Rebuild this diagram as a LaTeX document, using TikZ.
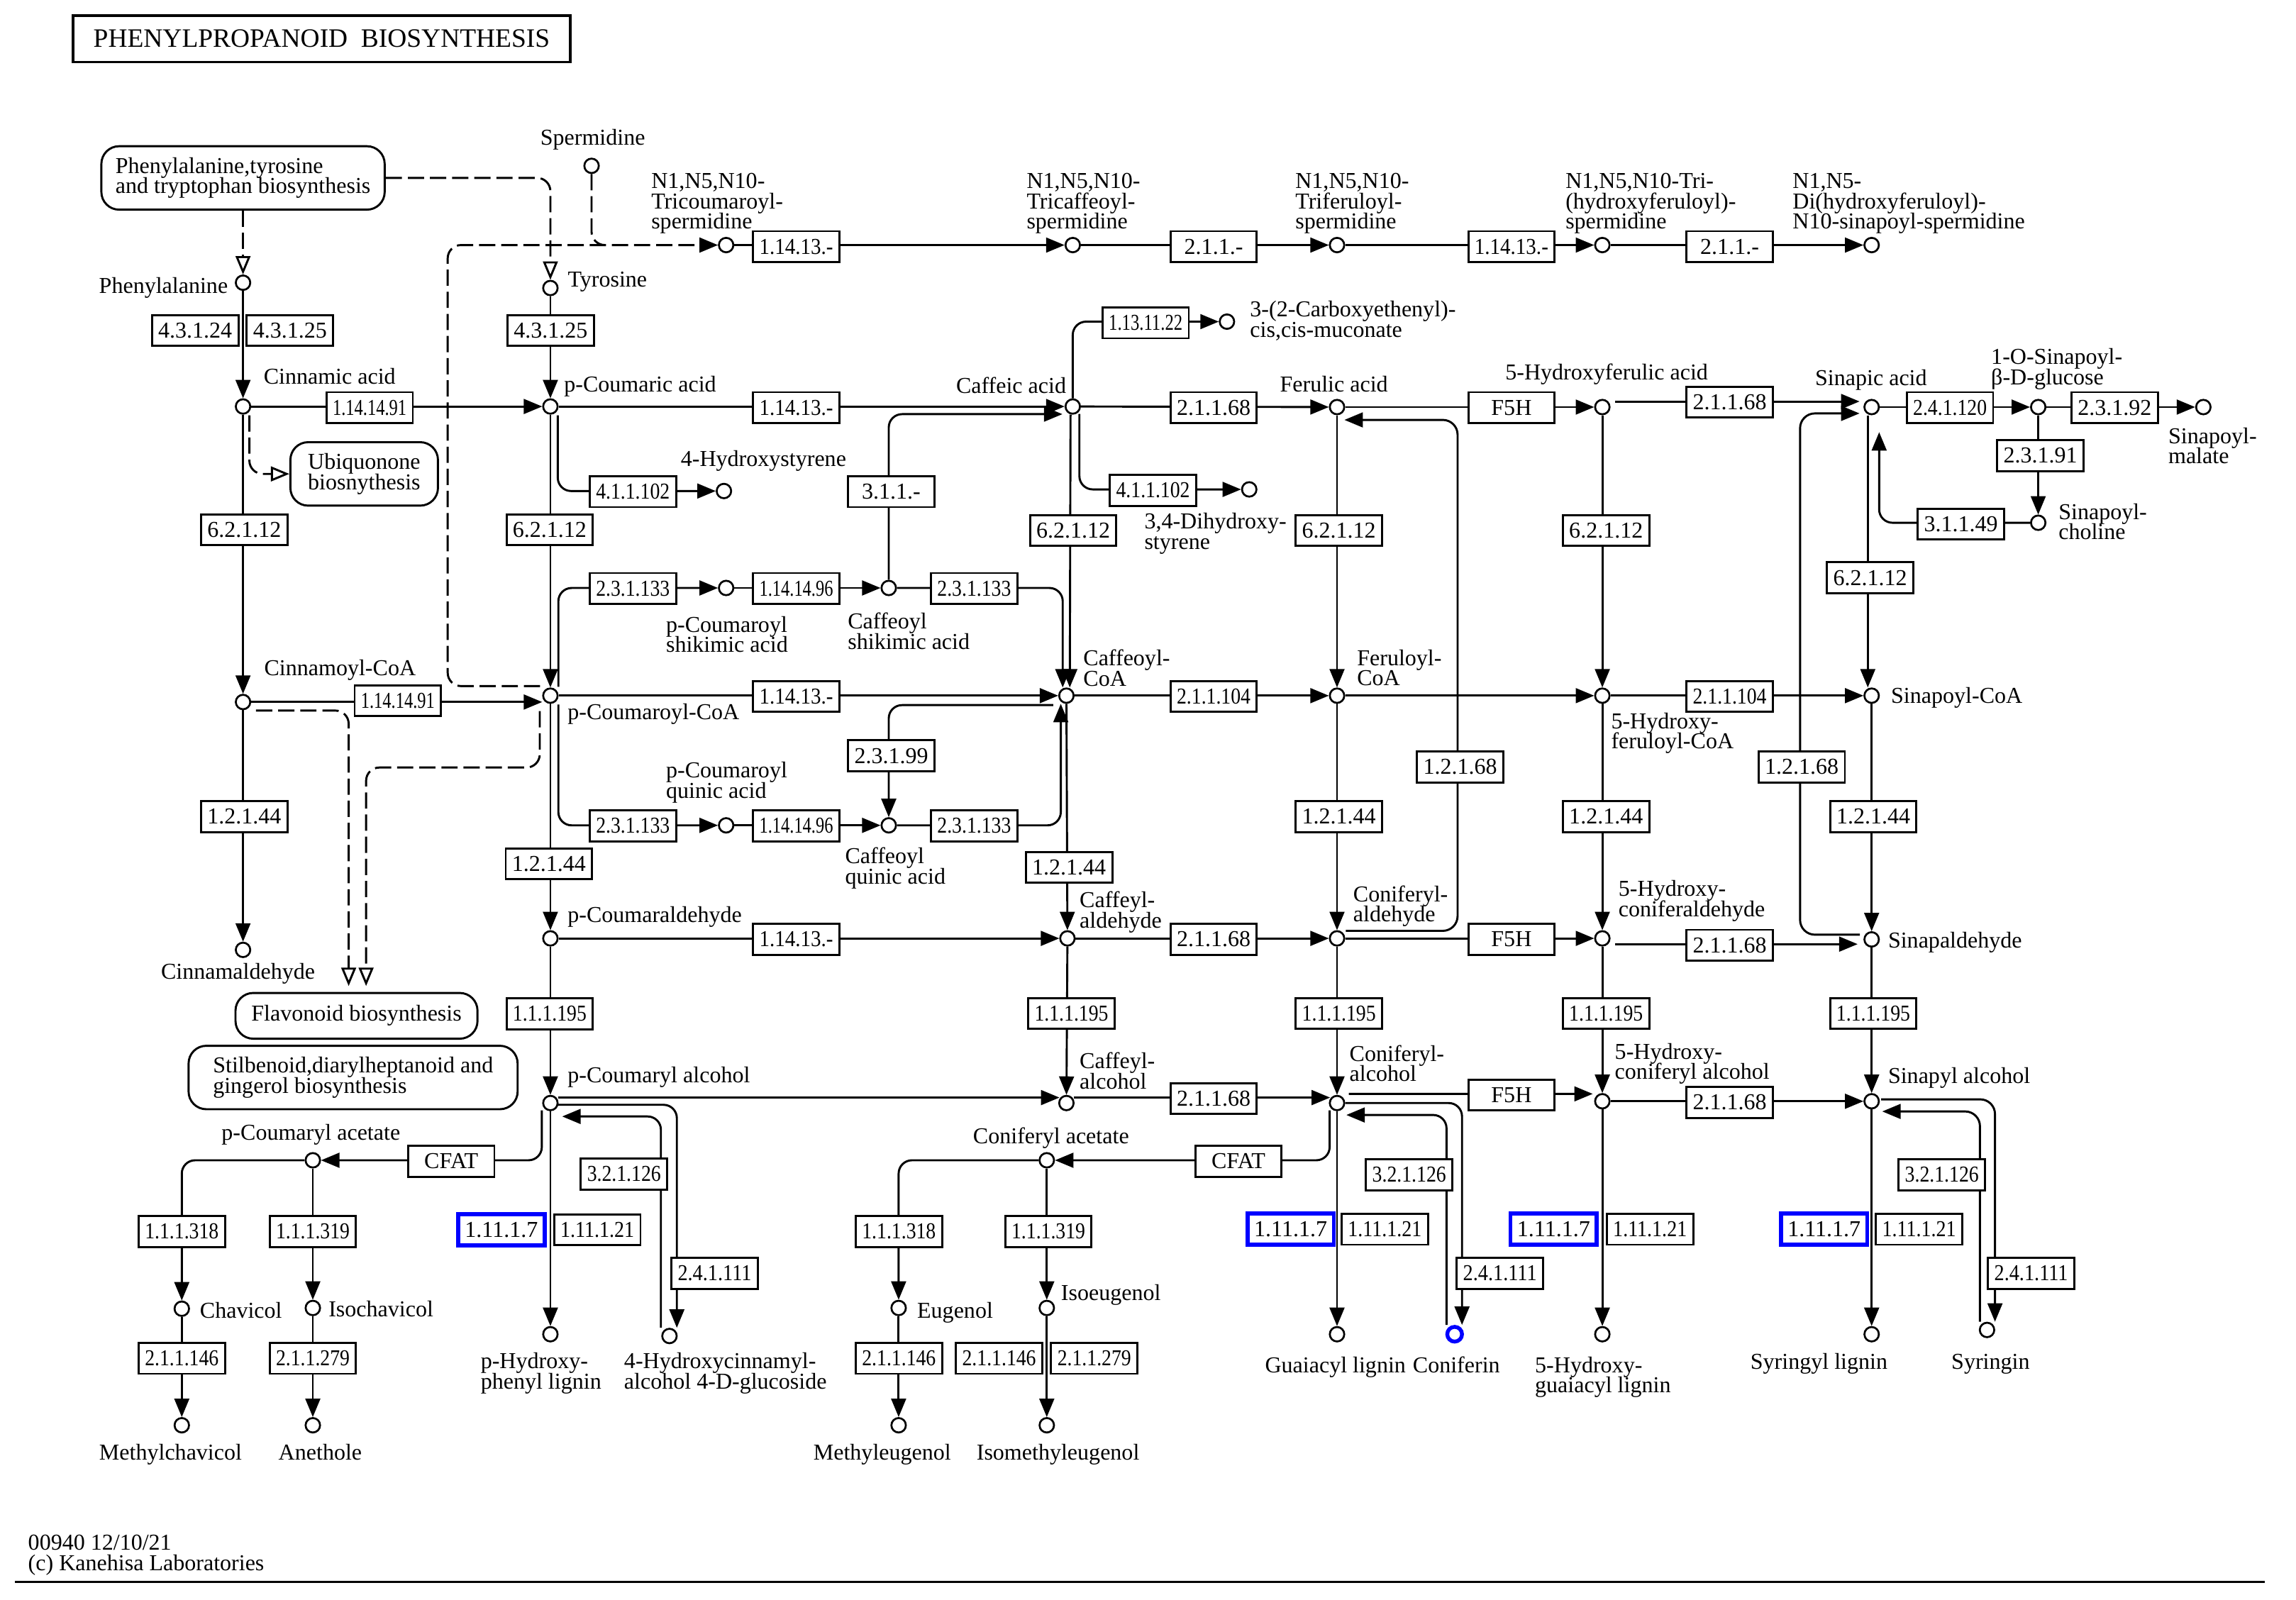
\documentclass[tikz,border=0pt]{standalone}
\usepackage{fontspec}
\setmainfont{Liberation Serif}
\usepackage{graphicx}
\usetikzlibrary{arrows.meta,calc}
\pgfdeclarelayer{bg}
\pgfsetlayers{bg,main}
\newsavebox\ezbox
\newcommand\ez[1]{\sbox\ezbox{#1}\ifdim\wd\ezbox>50pt\resizebox{50pt}{\height}{\usebox\ezbox}\else\usebox\ezbox\fi}
\newcommand\lfont{\fontsize{15.4}{13.7}\selectfont\lineskiplimit=-20pt\relax}
\tikzset{
  ln/.style={line width=1.4pt},
  arr/.style={-{Triangle[length=12.5pt,width=10pt]}},
  oarr/.style={-{Triangle[open,length=12.5pt,width=10pt]}},
  dsh/.style={dash pattern=on 11pt off 4pt},
  enz/.style={draw, line width=1.4pt, fill=white, minimum width=58.5pt, minimum height=21pt, inner sep=0pt, font=\lfont},
  enzb/.style={enz, draw=blue, line width=2.8pt},
  cpd/.style={circle, draw, line width=1.3pt, fill=white, minimum size=9.8pt, inner sep=0pt},
  cpdb/.style={cpd, draw=blue, line width=2.6pt, minimum size=10pt},
  mapbox/.style={draw, line width=1.4pt, rounded corners=12pt, fill=white, inner sep=0pt, align=left, font=\lfont},
  lab/.style={inner sep=0pt, align=left, anchor=north west, font=\lfont, execute at begin node={\rule{0pt}{11pt}}},
  labc/.style={lab, align=center, anchor=north},
  labr/.style={lab, align=right, anchor=north east}
}
\newcommand\mkE[4]{\node[enz] (#1) at (#2,#3) {\ez{#4}};}
\newcommand\mkB[4]{\node[enzb] (#1) at (#2,#3) {\ez{#4}};}
\newcommand\mkC[3]{\node[cpd] (#1) at (#2,#3) {};}
\begin{document}
\begin{tikzpicture}[x=1pt,y=-1pt]
\useasboundingbox (0,0) rectangle (1556,1084);
% ---------- title and map boxes
\node[draw, line width=1.5pt, minimum width=337pt, minimum height=31.5pt, inner sep=0pt, font=\fontsize{18}{20}\selectfont] (title) at (218,26.3) {PHENYLPROPANOID~~BIOSYNTHESIS};
\node[mapbox, minimum width=192pt, minimum height=43pt] (ptt) at (164.7,120.6) {Phenylalanine,tyrosine\\and tryptophan biosynthesis};
\node[mapbox, minimum width=100pt, minimum height=43pt] (ubiq) at (246.8,321.2) {Ubiquonone\\biosnythesis};
\node[mapbox, minimum width=164pt, minimum height=31pt] (flav) at (241.6,688.5) {Flavonoid biosynthesis};
\node[mapbox, minimum width=223pt, minimum height=43pt] (stil) at (239.3,730.3) {Stilbenoid,diarylheptanoid and\\gingerol biosynthesis};
% ---------- compounds
\mkC{phe}{164.7}{191.6}
\mkC{cin}{164.7}{275.5}
\mkC{cinCoA}{164.7}{475.8}
\mkC{cinald}{164.7}{643.8}
\mkC{sperm}{400.9}{112.4}
\mkC{tyr}{373}{195.2}
\mkC{pcoum}{373}{275.5}
\mkC{pcoumCoA}{373}{471.5}
\mkC{pcoumald}{373}{636}
\mkC{pcoumalc}{373}{747.6}
\mkC{tricoum}{492.1}{166.1}
\mkC{tricaf}{727}{166.1}
\mkC{triferu}{906.1}{166.1}
\mkC{triohf}{1085.9}{166.1}
\mkC{diohs}{1268.4}{166.1}
\mkC{muc}{831.5}{218}
\mkC{caf}{727}{275.5}
\mkC{hsty}{490.6}{332.8}
\mkC{dhsty}{846.6}{331.7}
\mkC{pcshik}{492.1}{398.5}
\mkC{cafshik}{602.3}{398.5}
\mkC{cafCoA}{722.7}{471.5}
\mkC{pcquin}{492.1}{559.4}
\mkC{cafquin}{602.3}{559.4}
\mkC{cafald}{723.4}{636}
\mkC{cafalc}{722.7}{747.6}
\mkC{fer}{906.1}{275.9}
\mkC{ferCoA}{906.1}{471.5}
\mkC{conald}{906.1}{636}
\mkC{conalc}{906.1}{747.6}
\mkC{ohfer}{1085.9}{275.9}
\mkC{ohferCoA}{1085.9}{471.5}
\mkC{ohconald}{1085.9}{636}
\mkC{ohconalc}{1085.9}{746.4}
\mkC{sin}{1268.4}{275.9}
\mkC{sinCoA}{1268.4}{471.5}
\mkC{sinald}{1268.4}{636.7}
\mkC{sinalc}{1268.4}{746.4}
\mkC{singlc}{1381.3}{275.9}
\mkC{sinmal}{1493.2}{275.9}
\mkC{sinchol}{1381.3}{354.3}
\mkC{pcacet}{212}{786.4}
\mkC{chav}{123.2}{887}
\mkC{ichav}{212}{886.5}
\mkC{mchav}{123.2}{966}
\mkC{anet}{212}{966}
\mkC{phlig}{373}{904.3}
\mkC{hcglc}{453.7}{905.5}
\mkC{conacet}{709.4}{786.4}
\mkC{eug}{609}{886.5}
\mkC{ieug}{709.4}{886.5}
\mkC{meug}{609}{966}
\mkC{imeug}{709.4}{966}
\mkC{glig}{906.1}{904.3}
\node[cpdb] (conif) at (985.8,904.3) {};
\mkC{ohglig}{1085.9}{904.3}
\mkC{slig}{1268.4}{904.3}
\mkC{syr}{1346.6}{901.4}
% ---------- enzymes
\mkE{e1}{132.3}{224}{4.3.1.24}
\mkE{e2}{196.5}{224}{4.3.1.25}
\mkE{e3}{250.5}{276.3}{1.14.14.91}
\mkE{e4}{165.5}{359.1}{6.2.1.12}
\mkE{e5}{269.6}{474.9}{1.14.14.91}
\mkE{e6}{165.5}{553.4}{1.2.1.44}
\mkE{e7}{373.2}{224}{4.3.1.25}
\mkE{e8}{372.5}{359.1}{6.2.1.12}
\mkE{e9}{372}{585.5}{1.2.1.44}
\mkE{e10}{372.5}{687}{1.1.1.195}
\mkE{e11}{539.6}{167.2}{1.14.13.-}
\mkE{e12}{822.5}{167.2}{2.1.1.-}
\mkE{e13}{1024.3}{167.2}{1.14.13.-}
\mkE{e14}{1172.2}{167.2}{2.1.1.-}
\mkE{e15}{539.6}{276.3}{1.14.13.-}
\mkE{e16}{776.4}{218.8}{1.13.11.22}
\mkE{e17}{428.9}{333.2}{4.1.1.102}
\mkE{e18}{604}{333.2}{3.1.1.-}
\mkE{e19}{781.4}{332.3}{4.1.1.102}
\mkE{e20}{727.3}{359.5}{6.2.1.12}
\mkE{e21}{822.5}{276.3}{2.1.1.68}
\mkE{e22}{1024.3}{276.3}{F5H}
\mkE{e23}{1172.2}{272.5}{2.1.1.68}
\mkE{e24}{1321.5}{276.3}{2.4.1.120}
\mkE{e25}{1433.1}{276.3}{2.3.1.92}
\mkE{e26}{1382.8}{308.7}{2.3.1.91}
\mkE{e27}{1328.9}{355.2}{3.1.1.49}
\mkE{e28}{907.4}{359.5}{6.2.1.12}
\mkE{e29}{1088.4}{359.5}{6.2.1.12}
\mkE{e30}{1267.4}{391.6}{6.2.1.12}
\mkE{e31}{428.9}{398.9}{2.3.1.133}
\mkE{e32}{539.6}{398.9}{1.14.14.96}
\mkE{e33}{660.2}{398.9}{2.3.1.133}
\mkE{e34}{539.6}{472}{1.14.13.-}
\mkE{e35}{604}{512.3}{2.3.1.99}
\mkE{e36}{428.9}{559.8}{2.3.1.133}
\mkE{e37}{539.6}{559.8}{1.14.14.96}
\mkE{e38}{660.2}{559.8}{2.3.1.133}
\mkE{e39}{724.5}{587.9}{1.2.1.44}
\mkE{e40}{822.5}{472}{2.1.1.104}
\mkE{e41}{1172.2}{472}{2.1.1.104}
\mkE{e42}{989.5}{519.8}{1.2.1.68}
\mkE{e43}{1221}{519.8}{1.2.1.68}
\mkE{e44}{907.4}{553.4}{1.2.1.44}
\mkE{e45}{1088.4}{553.4}{1.2.1.44}
\mkE{e46}{1269.5}{553.4}{1.2.1.44}
\mkE{e47}{539.6}{636.7}{1.14.13.-}
\mkE{e48}{822.5}{636.7}{2.1.1.68}
\mkE{e49}{1024.3}{636.7}{F5H}
\mkE{e50}{1172.2}{640.7}{2.1.1.68}
\mkE{e51}{726.1}{686.9}{1.1.1.195}
\mkE{e52}{907.4}{686.9}{1.1.1.195}
\mkE{e53}{1088.4}{686.9}{1.1.1.195}
\mkE{e54}{1269.5}{686.9}{1.1.1.195}
\mkE{e55}{822.5}{744.6}{2.1.1.68}
\mkE{e56}{1024.3}{742.2}{F5H}
\mkE{e57}{1172.2}{747.1}{2.1.1.68}
\mkE{e58}{305.8}{787.1}{CFAT}
\mkE{e59}{123.2}{834.6}{1.1.1.318}
\mkE{e60}{212}{834.6}{1.1.1.319}
\mkE{e61}{123.2}{920.6}{2.1.1.146}
\mkE{e62}{212}{920.6}{2.1.1.279}
\mkB{e63}{339.8}{833.5}{1.11.1.7}
\mkE{e64}{404.8}{833.5}{1.11.1.21}
\mkE{e65}{422.9}{795.8}{3.2.1.126}
\mkE{e66}{484.3}{863.1}{2.4.1.111}
\mkE{e67}{839.3}{787.1}{CFAT}
\mkE{e68}{609.2}{834.6}{1.1.1.318}
\mkE{e69}{710.5}{834.6}{1.1.1.319}
\mkE{e70}{609.2}{920.6}{2.1.1.146}
\mkE{e71}{677.1}{920.6}{2.1.1.146}
\mkE{e72}{741.6}{920.6}{2.1.1.279}
\mkB{e73}{874.7}{833.1}{1.11.1.7}
\mkE{e74}{938.5}{833.1}{1.11.1.21}
\mkE{e75}{955}{796.2}{3.2.1.126}
\mkE{e76}{1016.5}{863.1}{2.4.1.111}
\mkB{e77}{1052.9}{833.1}{1.11.1.7}
\mkE{e78}{1118.2}{833.1}{1.11.1.21}
\mkB{e79}{1236.2}{833.1}{1.11.1.7}
\mkE{e80}{1300.6}{833.1}{1.11.1.21}
\mkE{e81}{1316}{796.2}{3.2.1.126}
\mkE{e82}{1376.5}{863.1}{2.4.1.111}
% ---------- labels
\node[labc] (L1) at (401.7,86.9) {Spermidine};
\node[labr] (L2) at (154.6,187.7) {Phenylalanine};
\node[lab] (L3) at (384.6,183.4) {Tyrosine};
\node[lab] (L4) at (178.5,248.9) {Cinnamic acid};
\node[lab] (L5) at (382.1,254.2) {p-Coumaric acid};
\node[labr] (L6) at (722.7,255.3) {Caffeic acid};
\node[labc] (L7) at (904,254.2) {Ferulic acid};
\node[lab] (L8) at (1020,246.1) {5-Hydroxyferulic acid};
\node[labc] (L9) at (1268,249.9) {Sinapic acid};
\node[lab] (L10) at (1349.2,236) {1-O-Sinapoyl-\\β-D-glucose};
\node[lab] (L11) at (1469.3,289.6) {Sinapoyl-\\malate};
\node[lab] (L12) at (1394.9,341.1) {Sinapoyl-\\choline};
\node[lab] (L13) at (847,203.8) {3-(2-Carboxyethenyl)-\\cis,cis-muconate};
\node[lab] (L14) at (461.2,304.7) {4-Hydroxystyrene};
\node[lab] (L15) at (775.4,347.6) {3,4-Dihydroxy-\\styrene};
\node[lab] (L16) at (441.2,117.4) {N1,N5,N10-\\Tricoumaroyl-\\spermidine};
\node[lab] (L17) at (695.6,117.4) {N1,N5,N10-\\Tricaffeoyl-\\spermidine};
\node[lab] (L18) at (877.7,117.4) {N1,N5,N10-\\Triferuloyl-\\spermidine};
\node[lab] (L19) at (1060.8,117.4) {N1,N5,N10-Tri-\\(hydroxyferuloyl)-\\spermidine};
\node[lab] (L20) at (1214.7,117.4) {N1,N5-\\Di(hydroxyferuloyl)-\\N10-sinapoyl-spermidine};
\node[lab] (L21) at (178.9,446.5) {Cinnamoyl-CoA};
\node[lab] (L22) at (384.5,476.6) {p-Coumaroyl-CoA};
\node[lab] (L23) at (451.2,417.5) {p-Coumaroyl\\shikimic acid};
\node[lab] (L24) at (574.4,415.2) {Caffeoyl\\shikimic acid};
\node[lab] (L25) at (734,440.1) {Caffeoyl-\\CoA};
\node[lab] (L26) at (451.2,516.3) {p-Coumaroyl\\quinic acid};
\node[lab] (L27) at (572.6,574.2) {Caffeoyl\\quinic acid};
\node[lab] (L28) at (919.5,440.1) {Feruloyl-\\CoA};
\node[lab] (L29) at (1091.7,483) {5-Hydroxy-\\feruloyl-CoA};
\node[lab] (L30) at (1281.4,465.5) {Sinapoyl-CoA};
\node[labc] (L31) at (161.3,652.6) {Cinnamaldehyde};
\node[lab] (L32) at (384.5,613.9) {p-Coumaraldehyde};
\node[lab] (L33) at (731.5,604.2) {Caffeyl-\\aldehyde};
\node[lab] (L34) at (916.9,600) {Coniferyl-\\aldehyde};
\node[lab] (L35) at (1096.7,596.7) {5-Hydroxy-\\coniferaldehyde};
\node[lab] (L36) at (1279.4,631.1) {Sinapaldehyde};
\node[lab] (L37) at (384.5,722.5) {p-Coumaryl alcohol};
\node[lab] (L38) at (731.5,713.2) {Caffeyl-\\alcohol};
\node[lab] (L39) at (914.4,708.2) {Coniferyl-\\alcohol};
\node[lab] (L40) at (1094.2,707) {5-Hydroxy-\\coniferyl alcohol};
\node[lab] (L41) at (1279.4,723) {Sinapyl alcohol};
\node[labc] (L42) at (210.7,761.3) {p-Coumaryl acetate};
\node[labc] (L43) at (712.3,763.8) {Coniferyl acetate};
\node[lab] (L44) at (135.3,882.2) {Chavicol};
\node[lab] (L45) at (222.5,881) {Isochavicol};
\node[lab] (L46) at (621.4,882.2) {Eugenol};
\node[lab] (L47) at (718.9,869.9) {Isoeugenol};
\node[labc] (L48) at (115.6,978.5) {Methylchavicol};
\node[labc] (L49) at (217,978.5) {Anethole};
\node[labc] (L50) at (597.9,978.5) {Methyleugenol};
\node[labc] (L51) at (717,978.5) {Isomethyleugenol};
\node[lab] (L52) at (325.6,916.8) {p-Hydroxy-\\phenyl lignin};
\node[lab] (L53) at (422.8,916.8) {4-Hydroxycinnamyl-\\alcohol 4-D-glucoside};
\node[labc] (L54) at (905,919.3) {Guaiacyl lignin};
\node[labc] (L55) at (987,919.3) {Coniferin};
\node[lab] (L56) at (1040.1,919.3) {5-Hydroxy-\\guaiacyl lignin};
\node[labc] (L57) at (1232.7,916.8) {Syringyl lignin};
\node[labc] (L58) at (1349,916.8) {Syringin};
\node[lab] (L59) at (18.9,1040.1) {00940 12/10/21\\(c) Kanehisa Laboratories};
% ---------- connectors
\begin{pgfonlayer}{bg}
\fill[white] (0,0) rectangle (1556,1084);
\draw[ln] (10,1072.2) -- (1534.7,1072.2);
% dashed map links
\draw[ln,dsh,oarr] (ptt.south -| phe.north) -- (phe.north);
\draw[ln,dsh,oarr,rounded corners=9pt] (ptt.east) -| (tyr.north);
\draw[ln,dsh,oarr,rounded corners=9pt] ($(cin.center)+(4.3,6)$) |- (ubiq.west);
\draw[ln,dsh,oarr,rounded corners=9pt] ($(cinCoA.center)+(8.8,5.8)$) -| ($(flav.north)+(-5.3,-4)$);
\draw[ln,dsh,oarr,rounded corners=9pt] ($(pcoumCoA.center)+(-7.2,10.5)$) -- ++(0,38.2) -| ($(flav.north)+(6.5,-4)$);
\draw[ln,dsh,arr,rounded corners=9pt] ($(pcoumCoA.center)+(-7,-6.5)$) -| ($(tricoum.center)+(-188.7,0)$) -- (tricoum);
\draw[ln,dsh,rounded corners=9pt] (sperm.south) |- ($(tricoum.center)+(-82,0)$);
% spermidine row
\draw[ln,arr] (tricoum) -- (tricaf);
\draw[ln,arr] (tricaf) -- (triferu);
\draw[ln,arr] (triferu) -- (triohf);
\draw[ln,arr] (triohf) -- (diohs);
% column A
\draw[ln,arr] (phe) -- (cin);
\draw[ln,arr] (cin) -- (pcoum);
\draw[ln,arr] (cin) -- (cinCoA);
\draw[ln,arr] (cinCoA.east) -- (cinCoA.east -| pcoumCoA.west);
\draw[ln,arr] (cinCoA) -- (cinald);
% column B
\draw[ln,arr] (tyr) -- (pcoum);
\draw[ln,arr] (pcoum) -- (caf);
\draw[ln,arr,rounded corners=9pt] ($(pcoum.center)+(5,6)$) |- (hsty);
\draw[ln,arr] (pcoum) -- (pcoumCoA);
\draw[ln,arr] (pcoumCoA) -- (pcoumald);
\draw[ln,arr] (pcoumald) -- (pcoumalc);
\draw[ln,arr] (pcoumald) -- (cafald);
\draw[ln,arr] (pcoumCoA) -- (cafCoA);
\draw[ln,arr,rounded corners=9pt] ($(pcoumCoA.center)+(5.4,-6)$) |- (pcshik);
\draw[ln,arr,rounded corners=9pt] ($(pcoumCoA.center)+(5.4,6)$) |- (pcquin);
\draw[ln,arr] (pcshik) -- (cafshik);
\draw[ln,arr] (pcquin) -- (cafquin);
\draw[ln,arr,rounded corners=9pt] (cafshik) -| ($(cafCoA.north)+(-2.5,0)$);
\draw[ln,arr,rounded corners=9pt] (cafquin) -| ($(cafCoA.south)+(-3.8,0)$);
\draw[ln,arr,rounded corners=9pt] ($(cafCoA.center)+(-9,6.4)$) -| (cafquin);
\draw[ln,arr,rounded corners=9pt] (cafshik) |- ($(caf.center)+(-7,5.2)$);
% column C
\draw[ln,arr] ($(caf.south)+(-1.5,0)$) -- ($(cafCoA.north)+(2.3,0)$);
\draw[ln,arr,rounded corners=9pt] ($(caf.center)+(4.5,5)$) |- (dhsty);
\draw[ln,arr,rounded corners=9pt] (caf.north) |- (muc);
\draw[ln,arr] (caf) -- (fer);
\draw[ln,arr] (cafCoA) -- (ferCoA);
\draw[ln,arr] (cafCoA) -- (cafald);
\draw[ln,arr] (cafald) -- (conald);
\draw[ln,arr] (cafald) -- (cafalc);
\draw[ln,arr] ($(cafalc.center)+(5,-3.7)$) -- ($(conalc.center)+(-4.7,-3.7)$);
% p-coumaryl alcohol branches
\draw[ln,arr] ($(pcoumalc.center)+(5.2,-3.7)$) -- ($(cafalc.center)+(-4.7,-3.7)$);
\draw[ln,arr,rounded corners=9pt] ($(pcoumalc.center)+(5.2,1.2)$) -| ($(hcglc.north)+(5,0)$);
\draw[ln,arr,rounded corners=9pt] ($(hcglc.north)+(-5.8,0)$) |- ($(pcoumalc.center)+(8,9.1)$);
\draw[ln,arr,rounded corners=9pt] ($(pcoumalc.center)+(-5.8,5)$) |- (pcacet);
\draw[ln,arr] (pcoumalc) -- (phlig);
\draw[ln,arr,rounded corners=9pt] (pcacet) -| (chav);
\draw[ln,arr] (pcacet) -- (ichav);
\draw[ln,arr] (chav) -- (mchav);
\draw[ln,arr] (ichav) -- (anet);
% column D
\draw[ln,arr] (fer) -- (ferCoA);
\draw[ln,arr] (fer) -- (ohfer);
\draw[ln,arr] (ferCoA) -- (ohferCoA);
\draw[ln,arr] (ferCoA) -- (conald);
\draw[ln,arr] (conald) -- (conalc);
\draw[ln,arr] (conald) -- (ohconald);
\draw[ln,arr,rounded corners=10pt] ($(conald.center)+(6,-5.1)$) -| ($(fer.center)+(81.7,8.7)$) -- ($(fer.center)+(5,8.7)$);
\draw[ln,arr] ($(conalc.center)+(8,-6.2)$) -- ($(ohconalc.center)+(-6.5,-5)$);
\draw[ln,arr,rounded corners=9pt] (conalc.east) -| ($(conif.north)+(5,0)$);
\draw[ln,arr,rounded corners=9pt] ($(conif.north)+(-5.5,0)$) |- ($(conalc.center)+(6.3,8.1)$);
\draw[ln,arr,rounded corners=9pt] ($(conalc.center)+(-5,5)$) |- (conacet);
\draw[ln,arr,rounded corners=9pt] (conacet) -| (eug);
\draw[ln,arr] (conacet) -- (ieug);
\draw[ln,arr] (eug) -- (meug);
\draw[ln,arr] (ieug) -- (imeug);
\draw[ln,arr] (conalc) -- (glig);
% column E
\draw[ln,arr] (ohfer) -- (ohferCoA);
\draw[ln,arr] ($(ohfer.center)+(8.8,-3.8)$) -- ($(sin.center)+(-8.2,-3.8)$);
\draw[ln,arr] (ohferCoA) -- (sinCoA);
\draw[ln,arr] (ohferCoA) -- (ohconald);
\draw[ln,arr] ($(ohconald.center)+(8.8,3.9)$) -- ($(sinald.center)+(-9.5,3.2)$);
\draw[ln,arr] (ohconald) -- (ohconalc);
\draw[ln,arr] (ohconalc) -- (sinalc);
\draw[ln,arr] (ohconalc) -- (ohglig);
% column F
\draw[ln,arr] ($(sin.south)+(-2.6,0)$) -- ($(sinCoA.north)+(-2.6,0)$);
\draw[ln,arr] (sinCoA) -- (sinald);
\draw[ln,arr,rounded corners=10pt] ($(sinald.center)+(-8,-3.2)$) -| ($(sin.center)+(-48.5,4.3)$) -- ($(sin.center)+(-8.2,4.3)$);
\draw[ln,arr] (sinald) -- (sinalc);
\draw[ln,arr] (sinalc) -- (slig);
\draw[ln,arr,rounded corners=10pt] ($(sinalc.center)+(6.5,-1.3)$) -| ($(syr.north)+(5.4,0)$);
\draw[ln,arr,rounded corners=10pt] ($(syr.north)+(-4.8,0)$) |- ($(sinalc.center)+(7.2,6.9)$);
\draw[ln,arr] (sin) -- (singlc);
\draw[ln,arr] (singlc) -- (sinmal);
\draw[ln,arr] (singlc) -- (sinchol);
\draw[ln,arr,rounded corners=9pt] (sinchol) -| ($(sin.center)+(5.1,17)$);
\end{pgfonlayer}
\end{tikzpicture}
\end{document}
